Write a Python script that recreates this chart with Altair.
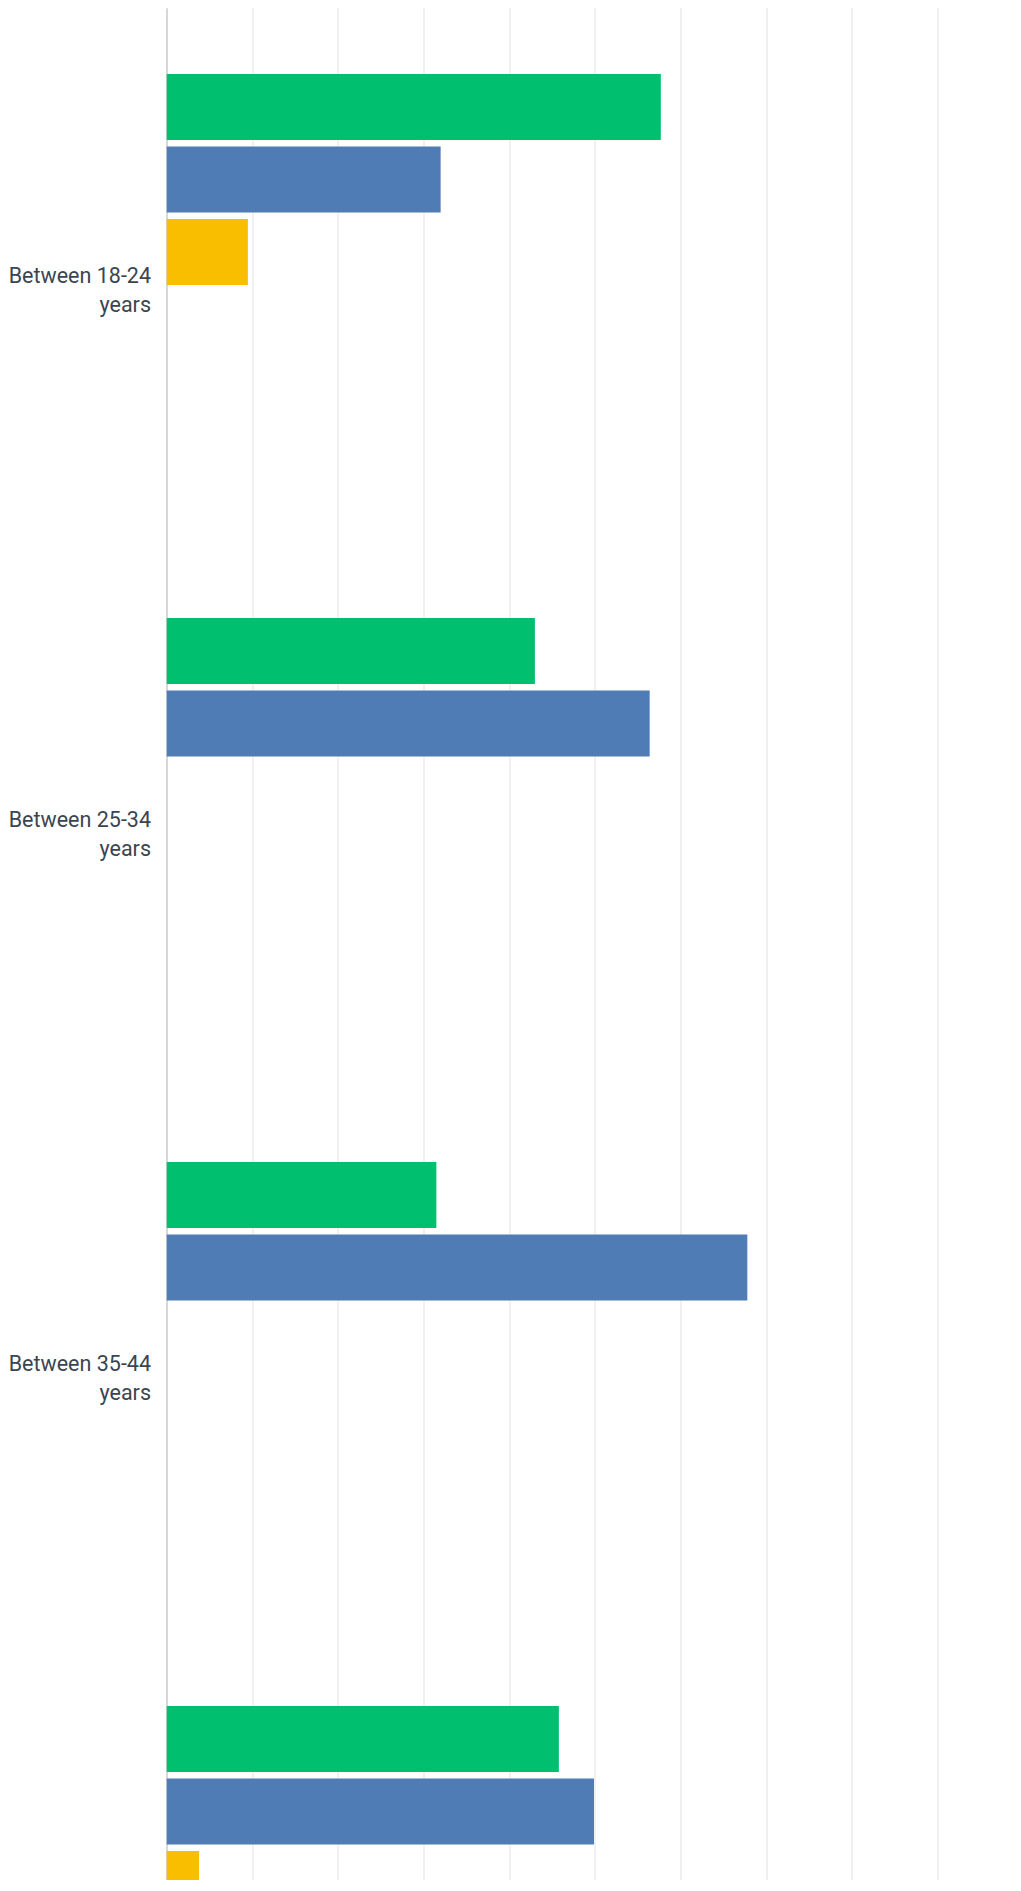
import altair as alt
import pandas as pd

# ---- data ----
categories = ["Between 18-24 years", "Between 25-34 years", "Between 35-44 years", "Between 45-54 years"]
series = ["Answer 1", "Answer 2", "Answer 3"]
slots = ["Answer 1", "Answer 2", "Answer 3", "Answer 4", "Answer 5", "Answer 6"]
colors = ["#00BF6F", "#507CB6", "#F9BE00"]
values_1 = [57.7, 43.0, 31.5, 45.8]
values_2 = [32.0, 56.4, 67.8, 49.9]
values_3 = [9.5, 0.0, 0.0, 3.8]
grid_values = [0, 10, 20, 30, 40, 50, 60, 70, 80, 90]

rows = []
for s, vals in zip(series, [values_1, values_2, values_3]):
    for c, v in zip(categories, vals):
        if v > 0:
            rows.append({"category": c, "series": s, "value": v})
df = pd.DataFrame(rows)

PLOT_W = 845
PX_PER_UNIT = 8.567
XMAX = PLOT_W / PX_PER_UNIT
PLOT_H = 1872

chart = alt.Chart(df).mark_bar(clip=True).encode(
    x=alt.X(
        "value:Q",
        scale=alt.Scale(domain=[0, XMAX], nice=False, zero=True),
        axis=alt.Axis(values=grid_values, labels=False, ticks=False, domain=False,
                      grid=True, gridColor="#ebebeb", gridWidth=1.5, title=None),
    ),
    y=alt.Y(
        "category:N",
        sort=categories,
        scale=alt.Scale(domain=categories, range=[0, 2192.6], paddingInner=0.2, paddingOuter=0.1153),
        axis=alt.Axis(title=None, ticks=False, labelPadding=16, labelFont="Roboto",
                      labelFontSize=21.5, labelColor="#3b4550", labelLineHeight=29,
                      labelOffset=-11,
                      labelLimit=300, labelExpr="[replace(datum.label, ' years', ''), 'years']",
                      domainColor="#cfcfcf", domainWidth=1.5, grid=False),
    ),
    yOffset=alt.YOffset("series:N", sort=slots,
                        scale=alt.Scale(domain=slots, paddingInner=0.09, paddingOuter=0.045)),
    color=alt.Color("series:N", scale=alt.Scale(domain=series, range=colors), legend=None),
).properties(
    width=PLOT_W,
    height=PLOT_H,
    autosize=alt.AutoSizeParams(type="none"),
    padding={"left": 158.5, "top": 0, "right": 0, "bottom": 0},
).configure_view(strokeWidth=0)

chart.save("out.html", embed_options={"renderer": "svg", "actions": False})
